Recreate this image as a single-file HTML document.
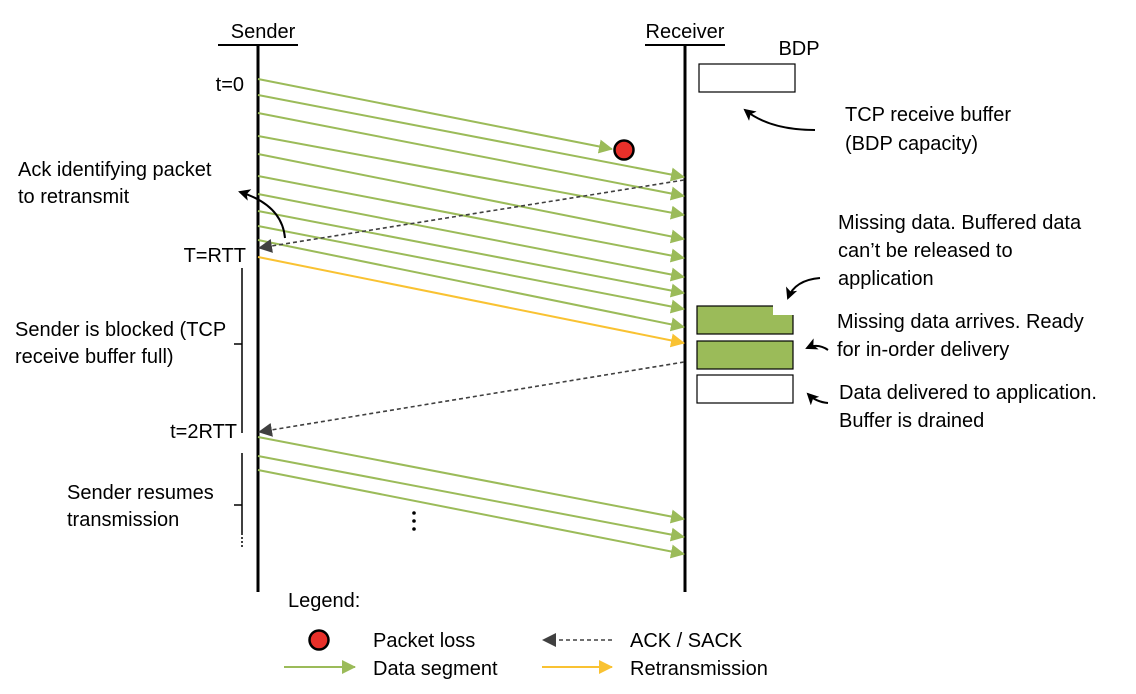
<!DOCTYPE html>
<html><head><meta charset="utf-8"><style>
html,body{margin:0;padding:0;background:#fff}
svg{display:block}
text{font-family:"Liberation Sans",sans-serif;font-size:20px;fill:#000}
</style></head><body>
<svg width="1136" height="694" viewBox="0 0 1136 694" xmlns="http://www.w3.org/2000/svg">
<defs>
<marker id="g" markerWidth="14" markerHeight="14" refX="13" refY="7" orient="auto" markerUnits="userSpaceOnUse"><path d="M0,0 L14,7 L0,14 Z" fill="#9bbb59"/></marker>
<marker id="y" markerWidth="14" markerHeight="14" refX="13" refY="7" orient="auto" markerUnits="userSpaceOnUse"><path d="M0,0 L14,7 L0,14 Z" fill="#f9c232"/></marker>
<marker id="k" markerWidth="14" markerHeight="14" refX="13" refY="7" orient="auto" markerUnits="userSpaceOnUse"><path d="M0,0 L14,7 L0,14 Z" fill="#404040"/></marker>
<marker id="b" markerWidth="12" markerHeight="12" refX="10" refY="6" orient="auto" markerUnits="userSpaceOnUse"><path d="M0,0 L12,6 L0,12 L3,6 Z" fill="#000"/></marker>
</defs>
<line x1="218" y1="45" x2="298" y2="45" stroke="#000" stroke-width="2"/>
<line x1="645" y1="45" x2="725" y2="45" stroke="#000" stroke-width="2"/>
<line x1="258" y1="45" x2="258" y2="592" stroke="#000" stroke-width="3"/>
<line x1="685" y1="45" x2="685" y2="592" stroke="#000" stroke-width="3"/>
<text x="263" y="38" text-anchor="middle">Sender</text>
<text x="685" y="38" text-anchor="middle">Receiver</text>
<text x="799" y="55" text-anchor="middle">BDP</text>
<g stroke="#9bbb59" stroke-width="2" fill="none" marker-end="url(#g)">
<line x1="258" y1="79" x2="612" y2="149"/>
<line x1="258" y1="95" x2="684" y2="177"/>
<line x1="258" y1="113" x2="684" y2="196"/>
<line x1="258" y1="136" x2="684" y2="215"/>
<line x1="258" y1="154" x2="684" y2="239"/>
<line x1="258" y1="176" x2="684" y2="258"/>
<line x1="258" y1="194" x2="684" y2="277"/>
<line x1="258" y1="211" x2="684" y2="293"/>
<line x1="258" y1="226" x2="684" y2="309"/>
<line x1="258" y1="240" x2="684" y2="327"/>
<line x1="258" y1="437" x2="684" y2="519"/>
<line x1="258" y1="456" x2="684" y2="537"/>
<line x1="258" y1="470" x2="684" y2="554"/>
</g>
<line x1="258" y1="257" x2="684" y2="343" stroke="#f9c232" stroke-width="2" marker-end="url(#y)"/>
<circle cx="624" cy="150" r="9.5" fill="#e8302a" stroke="#000" stroke-width="2.5"/>
<g stroke="#404040" stroke-width="1.6" stroke-dasharray="4,3" marker-end="url(#k)">
<line x1="684" y1="180" x2="259" y2="248"/>
<line x1="684" y1="362" x2="259" y2="432"/>
</g>
<text x="244" y="91" text-anchor="end">t=0</text>
<text x="18" y="176">Ack identifying packet</text>
<text x="18" y="203">to retransmit</text>
<path d="M285,238 Q282,205 240,192" stroke="#000" stroke-width="2" fill="none" marker-end="url(#b)"/>
<text x="246" y="262" text-anchor="end">T=RTT</text>
<line x1="242" y1="268" x2="242" y2="433" stroke="#000" stroke-width="1.5"/>
<line x1="234" y1="344" x2="242" y2="344" stroke="#000" stroke-width="1.5"/>
<text x="15" y="336">Sender is blocked (TCP</text>
<text x="15" y="363">receive buffer full)</text>
<text x="237" y="438" text-anchor="end">t=2RTT</text>
<line x1="242" y1="453" x2="242" y2="533" stroke="#000" stroke-width="1.5"/>
<line x1="242" y1="533" x2="242" y2="548" stroke="#000" stroke-width="1.5" stroke-dasharray="2,2"/>
<line x1="234" y1="505" x2="242" y2="505" stroke="#000" stroke-width="1.5"/>
<text x="67" y="499">Sender resumes</text>
<text x="67" y="526">transmission</text>
<g fill="#000"><circle cx="414" cy="513" r="1.8"/><circle cx="414" cy="521" r="1.8"/><circle cx="414" cy="529" r="1.8"/></g>
<rect x="699" y="64" width="96" height="28" fill="#fff" stroke="#000" stroke-width="1.2"/>
<path d="M815,130 Q770,130 745,110" stroke="#000" stroke-width="2" fill="none" marker-end="url(#b)"/>
<text x="845" y="121">TCP receive buffer</text>
<text x="845" y="150">(BDP capacity)</text>
<rect x="697" y="306" width="96" height="28" fill="#9bbb59" stroke="#000" stroke-width="1.2"/>
<rect x="773" y="305" width="21" height="10" fill="#fff"/>
<rect x="697" y="341" width="96" height="28" fill="#9bbb59" stroke="#000" stroke-width="1.2"/>
<rect x="697" y="375" width="96" height="28" fill="#fff" stroke="#000" stroke-width="1.2"/>
<path d="M820,278 Q795,280 788,298" stroke="#000" stroke-width="2" fill="none" marker-end="url(#b)"/>
<text x="838" y="229">Missing data. Buffered data</text>
<text x="838" y="257">can’t be released to</text>
<text x="838" y="285">application</text>
<path d="M828,350 Q818,343 807,348" stroke="#000" stroke-width="2" fill="none" marker-end="url(#b)"/>
<text x="837" y="328">Missing data arrives. Ready</text>
<text x="837" y="356">for in-order delivery</text>
<path d="M828,403 Q816,402 808,394" stroke="#000" stroke-width="2" fill="none" marker-end="url(#b)"/>
<text x="839" y="399">Data delivered to application.</text>
<text x="839" y="427">Buffer is drained</text>
<text x="288" y="607">Legend:</text>
<circle cx="319" cy="640" r="9.5" fill="#e8302a" stroke="#000" stroke-width="2.5"/>
<text x="373" y="647">Packet loss</text>
<line x1="284" y1="667" x2="355" y2="667" stroke="#9bbb59" stroke-width="2" marker-end="url(#g)"/>
<text x="373" y="675">Data segment</text>
<line x1="612" y1="640" x2="543" y2="640" stroke="#404040" stroke-width="1.6" stroke-dasharray="4,3" marker-end="url(#k)"/>
<text x="630" y="647">ACK / SACK</text>
<line x1="542" y1="667" x2="612" y2="667" stroke="#f9c232" stroke-width="2" marker-end="url(#y)"/>
<text x="630" y="675">Retransmission</text>
</svg>
</body></html>
